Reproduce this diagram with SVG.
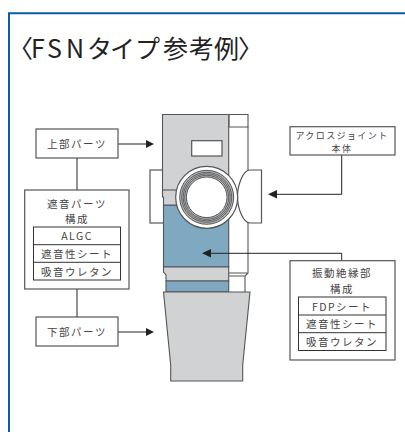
<svg xmlns="http://www.w3.org/2000/svg" width="405" height="432" viewBox="0 0 405 432">
<style>
.b{fill:#fff;stroke:#555;stroke-width:1.2}
.i{fill:#fff;stroke:#333;stroke-width:1}
.d{stroke:#555;stroke-width:1.1}
.c{fill:none;stroke:#222;stroke-width:1}
.r{fill:none;stroke:#555;stroke-width:.9}
text{font-family:"Noto Sans CJK JP","Noto Sans",sans-serif;font-size:10.5px;letter-spacing:1.5px;fill:#444;text-anchor:middle}
.s{font-size:9px;letter-spacing:1.4px}
</style>
<rect width="405" height="432" fill="#fff"/>
<path id="frame" d="M9 432V13.300H405" fill="none" stroke="#0b5cab" stroke-width="2"/>
<text id="title" y="58" x="8 31 47 66 87 110 135 163 189 214 238" style="font-size:25px;letter-spacing:0;text-anchor:start;fill:#222">〈FSNタイプ参考例〉</text>
<g id="joint">
<path class="d" d="M229 114.500H248V127H229Z" fill="#fff"/>
<path class="d" d="M248 127V273L245 276V292M229 273H247M229 276H245" fill="none"/>
<rect class="b" x="150" y="170" width="14" height="53"/>
<path class="d" fill="#7fa9c1" d="M163.500 205H228.700V267H163.500Z"/>
<path class="d" fill="#d1d2d4" d="M162.500 114.500H228.700V205H163.500V197H162.500Z"/>
<path class="d" fill="none" d="M162.500 190H178"/>
<path class="d" fill="#d1d2d4" d="M163.500 267H228.700V281H166V275L163.500 272Z"/>
<path class="d" fill="#7fa9c1" d="M166 281H228.700V292H166Z"/>
<rect class="b" x="191.700" y="140.700" width="30.300" height="15.300"/>
<path class="b" d="M250 170H261.500V223H250C243 223 237.500 208 237.500 196.500C237.500 185 243 170 250 170Z"/>
<circle class="b" cx="206.700" cy="197.300" r="31"/>
<circle cx="206.700" cy="197.300" r="27" fill="#b5b7ba" stroke="#555"/>
<circle class="r" cx="206.700" cy="197.300" r="25"/>
<circle class="r" cx="206.700" cy="197.300" r="23.500"/>
<circle class="r" cx="206.700" cy="197.300" r="22"/>
<circle cx="206.700" cy="197.300" r="20.300" fill="#fff" stroke="#555"/>
<path class="d" fill="#d1d2d4" d="M163.500 292H250L242.700 365V381H170.700V365Z"/>
</g>
<g id="connectors">
<path class="c" d="M77 158V190M77 289V317M341.700 155V194.300H272"/>
<path class="c" d="M341.700 260.700V253.300H206"/>
<path class="c" d="M118 144H150M118 332H150"/>
<path d="M154 144L146 140V148ZM154 332L146 328V336ZM268 194.300L277 190V198.600ZM202 253.300L211 249V257.600Z" fill="#222"/>
</g>
<g id="upper"><rect class="b" x="36" y="129" width="82" height="29"/><text x="77" y="148">上部パーツ</text></g>
<g id="lower"><rect class="b" x="36" y="317" width="82" height="29"/><text x="77" y="336">下部パーツ</text></g>
<g id="soundproof"><rect class="b" x="24.700" y="190" width="104.300" height="99"/>
<text x="77" y="207.500">遮音パーツ</text><text x="77" y="223">構成</text>
<rect class="i" x="33.500" y="227" width="87" height="53"/><path class="i" d="M33.500 244.700H120.500M33.500 262.300H120.500"/>
<text x="77" y="240">ALGC</text><text x="77" y="258">遮音性シート</text><text x="77" y="275.500">吸音ウレタン</text></g>
<g id="across"><rect class="b" x="290" y="126.700" width="105" height="28.300"/><text class="s" x="342" y="138.500">アクロスジョイント</text><text class="s" x="342" y="151.500">本体</text></g>
<g id="vibration"><rect class="b" x="290" y="260.700" width="105" height="99.300"/>
<text x="342" y="277">振動絶縁部</text><text x="342" y="292.500">構成</text>
<rect class="i" x="298.500" y="297" width="87.500" height="53.500"/><path class="i" d="M298.500 315H386M298.500 332.700H386"/>
<text x="342" y="310.500">FDPシート</text><text x="342" y="328">遮音性シート</text><text x="342" y="345.500">吸音ウレタン</text></g>
</svg>
